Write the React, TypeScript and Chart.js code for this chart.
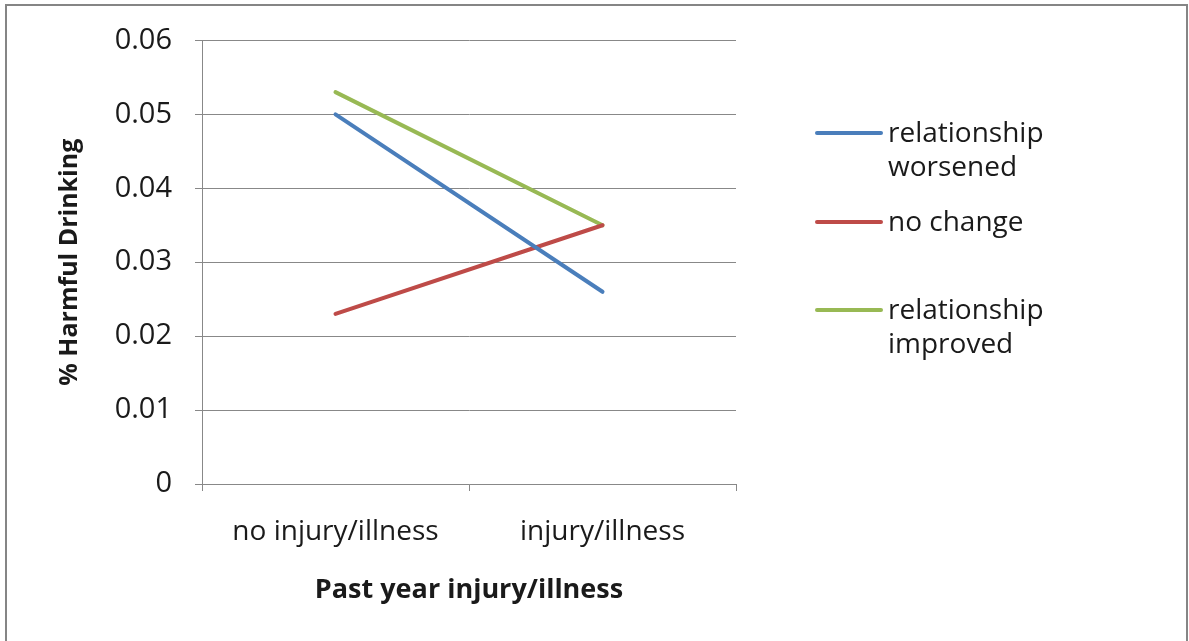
import React, { useEffect, useRef } from "react";
import { Chart, registerables } from "chart.js";

Chart.register(...registerables);

const categories = ["no injury/illness", "injury/illness"];
const seriesNames = ["relationship worsened", "no change", "relationship improved"];
const legendLines = [["relationship", "worsened"], ["no change"], ["relationship", "improved"]];
const worsened = [0.05, 0.026];
const noChange = [0.023, 0.035];
const improved = [0.053, 0.035];
const seriesColors = ["#4A7EBB", "#BE4B48", "#98B954"];
const yTicks = [0, 0.01, 0.02, 0.03, 0.04, 0.05, 0.06];

const FONT = "'Open Sans', sans-serif";
const GRID = "#888888";
const TEXT = "#1a1a1a";

export default function App() {
  const ref = useRef<HTMLCanvasElement | null>(null);

  useEffect(() => {
    document.body.style.margin = "0";
    const canvas = ref.current!;
    const framePlugin = {
      id: "frame",
      beforeDraw(chart: any) {
        const { ctx, width, height } = chart;
        ctx.save();
        ctx.fillStyle = "#ffffff";
        ctx.fillRect(0, 0, width, height);
        ctx.strokeStyle = "#858585";
        ctx.lineWidth = 2;
        ctx.strokeRect(6, 5, width - 8, height + 50);
        ctx.restore();
      },
    };
    const legendPlugin = {
      id: "customLegend",
      afterDraw(chart: any) {
        const { ctx, chartArea } = chart;
        const x0 = chartArea.right + 81;
        const x1 = x0 + 64;
        const ys = [133, 222, 310];
        ctx.save();
        chart.data.datasets.forEach((ds: any, i: number) => {
          const y = ys[i];
          ctx.strokeStyle = ds.borderColor;
          ctx.lineWidth = 4;
          ctx.lineCap = "round";
          ctx.beginPath();
          ctx.moveTo(x0, y);
          ctx.lineTo(x1, y);
          ctx.stroke();
          ctx.fillStyle = TEXT;
          ctx.font = `28px ${FONT}`;
          ctx.textBaseline = "middle";
          ctx.textAlign = "left";
          legendLines[i].forEach((t, j) => {
            ctx.fillText(t, x1 + 7, y + 1 + j * 34);
          });
        });
        ctx.restore();
      },
    };

    const chart = new Chart(canvas, {
      type: "line",
      data: {
        labels: categories,
        datasets: [worsened, noChange, improved].map((d, i) => ({
          label: seriesNames[i],
          data: d,
          borderColor: seriesColors[i],
          backgroundColor: seriesColors[i],
          borderWidth: 4,
          borderCapStyle: "round" as const,
          pointRadius: 0,
          tension: 0,
        })),
      },
      options: {
        animation: false,
        responsive: false,
        maintainAspectRatio: false,
        layout: { padding: { left: 0, top: 38, right: 453, bottom: 0 } },
        plugins: { legend: { display: false }, tooltip: { enabled: false } },
        scales: {
          x: {
            type: "category",
            offset: true,
            afterFit(scale: any) {
              scale.height = 157;
            },
            grid: {
              offset: true,
              drawOnChartArea: false,
              drawTicks: true,
              tickLength: 7,
              color: GRID,
            },
            border: { display: true, color: GRID },
            ticks: {
              color: TEXT,
              font: { family: FONT, size: 28 },
              padding: 24,
              maxRotation: 0,
            },
            title: {
              display: true,
              text: "Past year injury/illness",
              color: TEXT,
              font: { family: FONT, size: 27, weight: "bold" },
              padding: { top: 0, bottom: 34 },
            },
          },
          y: {
            min: 0,
            max: 0.06,
            afterFit(scale: any) {
              scale.width = 202;
            },
            afterBuildTicks(scale: any) {
              scale.ticks = yTicks.map((v) => ({ value: v }));
            },
            grid: {
              color: GRID,
              drawTicks: true,
              tickLength: 7,
            },
            border: { display: true, color: GRID },
            ticks: {
              color: TEXT,
              font: { family: FONT, size: 29 },
              padding: 23,
              callback: (v: any) => (Number(v) === 0 ? "0" : Number(v).toFixed(2)),
            },
            title: {
              display: true,
              text: "% Harmful Drinking",
              color: TEXT,
              font: { family: FONT, size: 25, weight: "bold" },
              padding: { top: 55, bottom: 0 },
            },
          },
        },
      },
      plugins: [framePlugin, legendPlugin],
    });
    return () => chart.destroy();
  }, []);

  return (
    <div style={{ width: 1189, height: 641 }}>
      <canvas ref={ref} width={1189} height={641} style={{ display: "block" }} />
    </div>
  );
}
